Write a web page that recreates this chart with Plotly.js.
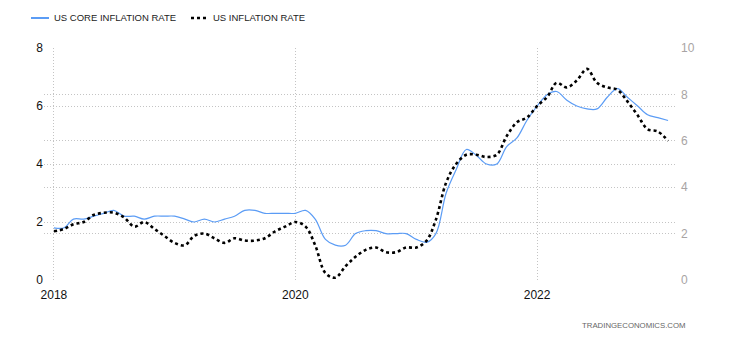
<!DOCTYPE html>
<html>
<head>
<meta charset="utf-8">
<script src="https://cdn.plot.ly/plotly-3.0.1.min.js"></script>
<style>
html,body{margin:0;padding:0;background:#fff;}
#chart{width:730px;height:340px;}
</style>
</head>
<body>
<div id="chart"></div>
<script>
// Monthly dates Jan 2018 .. Feb 2023
const months = [
 "2018-01-01","2018-02-01","2018-03-01","2018-04-01","2018-05-01","2018-06-01","2018-07-01","2018-08-01","2018-09-01","2018-10-01","2018-11-01","2018-12-01",
 "2019-01-01","2019-02-01","2019-03-01","2019-04-01","2019-05-01","2019-06-01","2019-07-01","2019-08-01","2019-09-01","2019-10-01","2019-11-01","2019-12-01",
 "2020-01-01","2020-02-01","2020-03-01","2020-04-01","2020-05-01","2020-06-01","2020-07-01","2020-08-01","2020-09-01","2020-10-01","2020-11-01","2020-12-01",
 "2021-01-01","2021-02-01","2021-03-01","2021-04-01","2021-05-01","2021-06-01","2021-07-01","2021-08-01","2021-09-01","2021-10-01","2021-11-01","2021-12-01",
 "2022-01-01","2022-02-01","2022-03-01","2022-04-01","2022-05-01","2022-06-01","2022-07-01","2022-08-01","2022-09-01","2022-10-01","2022-11-01","2022-12-01",
 "2023-01-01","2023-02-01"
];
// US core inflation rate (left axis)
const coreInflation = [
 1.8,1.8,2.1,2.1,2.2,2.3,2.4,2.2,2.2,2.1,2.2,2.2,
 2.2,2.1,2.0,2.1,2.0,2.1,2.2,2.4,2.4,2.3,2.3,2.3,
 2.3,2.4,2.1,1.4,1.2,1.2,1.6,1.7,1.7,1.6,1.6,1.6,
 1.4,1.3,1.6,3.0,3.8,4.5,4.3,4.0,4.0,4.6,4.9,5.5,
 6.0,6.4,6.5,6.2,6.0,5.9,5.9,6.3,6.6,6.3,6.0,5.7,
 5.6,5.5
];
// US inflation rate (right axis)
const inflation = [
 2.1,2.2,2.4,2.5,2.8,2.9,2.9,2.7,2.3,2.5,2.2,1.9,
 1.6,1.5,1.9,2.0,1.8,1.6,1.8,1.7,1.7,1.8,2.1,2.3,
 2.5,2.3,1.5,0.3,0.1,0.6,1.0,1.3,1.4,1.2,1.2,1.4,
 1.4,1.7,2.6,4.2,5.0,5.4,5.4,5.3,5.4,6.2,6.8,7.0,
 7.5,7.9,8.5,8.3,8.6,9.1,8.5,8.3,8.2,7.7,7.1,6.5,
 6.4,6.0
];
const seriesNames = ["US CORE INFLATION RATE", "US INFLATION RATE"];
const seriesColors = ["#5b9cf5", "#000000"];
const xTickVals = ["2018-01-01","2020-01-01","2022-01-01"];
const xTickText = ["2018","2020","2022"];
const leftTicks = [0,2,4,6,8];
const rightTicks = [0,2,4,6,8,10];

const font = "Liberation Sans, Arial, sans-serif";
const traces = [
 {x: months, y: coreInflation, name: seriesNames[0], type: "scatter", mode: "lines",
  line: {color: seriesColors[0], width: 1.2, shape: "spline", smoothing: 1}, yaxis: "y"},
 {x: months, y: inflation, name: seriesNames[1], type: "scatter", mode: "lines",
  line: {color: seriesColors[1], width: 2.6, dash: "dot", shape: "spline", smoothing: 1}, yaxis: "y2"}
];
const grid = "#c4c4c4";
const gdash = "1px,2px";

// custom legend (paper coords): plot area is 633 px wide from x=44, 232 px tall from y=48
const W = 633, H = 232, L = 44, T = 48;
const px = p => (p - L) / W;
const py = p => 1 - (p - T) / H;
const legY = 18;
const legItems = [
 {x0: 31, x1: 49, tx: 52, dash: "solid", width: 2},
 {x0: 191, x1: 207, tx: 211, dash: "dot", width: 2.4}
];
const shapes = legItems.map((it, i) => ({
 type: "line", xref: "paper", yref: "paper",
 x0: px(it.x0), x1: px(it.x1), y0: py(legY), y1: py(legY),
 line: {color: seriesColors[i], width: it.width, dash: it.dash}
}));
const annotations = legItems.map((it, i) => ({
 text: seriesNames[i], xref: "paper", yref: "paper", x: px(it.tx), y: py(legY),
 xanchor: "left", yanchor: "middle", showarrow: false,
 font: {family: font, size: 9.5, color: "#222"}
}));
annotations.push({text: "TRADINGECONOMICS.COM", xref: "paper", yref: "paper",
 x: px(688), y: py(325), xanchor: "right", yanchor: "middle", showarrow: false,
 font: {family: font, size: 7.8, color: "#666"}});

const layout = {
 width: 730, height: 340,
 margin: {l: L, r: 730 - L - W, t: T, b: 340 - T - H, autoexpand: false},
 paper_bgcolor: "#fff", plot_bgcolor: "#fff",
 showlegend: false,
 xaxis: {type: "date", range: ["2017-12-02", "2023-02-28"],
  tickvals: xTickVals, ticktext: xTickText, showgrid: true, gridcolor: grid, griddash: gdash,
  gridwidth: 1, zeroline: false, showline: false, ticks: "", ticklabelstandoff: 6,
  tickfont: {family: font, size: 12, color: "#111"}},
 yaxis: {range: [0, 8], tickvals: leftTicks, showgrid: true, gridcolor: grid, griddash: gdash,
  zeroline: false, showline: false, ticks: "",
  tickfont: {family: font, size: 12, color: "#111"}},
 yaxis2: {range: [0, 10], tickvals: rightTicks, overlaying: "y", side: "right",
  showgrid: true, gridcolor: grid, griddash: gdash, zeroline: false, showline: false, ticks: "",
  ticklabelstandoff: 3,
  tickfont: {family: font, size: 12, color: "#a8a4a4"}},
 shapes: shapes,
 annotations: annotations
};
Plotly.newPlot("chart", traces, layout, {displayModeBar: false, staticPlot: true});
</script>
</body>
</html>
